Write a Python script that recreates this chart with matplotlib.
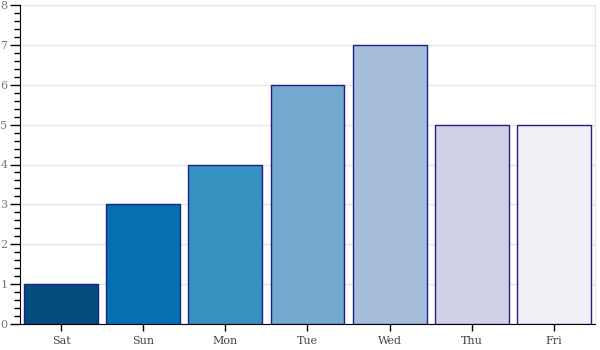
import matplotlib.pyplot as plt
from matplotlib.ticker import MultipleLocator

days = ["Sat", "Sun", "Mon", "Tue", "Wed", "Thu", "Fri"]
counts = [1, 3, 4, 6, 7, 5, 5]
colors = ["#034e7b", "#0570b0", "#3690c0", "#74a9cf", "#a6bddb", "#d0d1e6", "#f1eef6"]

fig = plt.figure(figsize=(6, 3.5), dpi=100)
ax = fig.add_axes([0.0333, 0.0743, 0.9584, 0.9114])

ax.bar(range(len(days)), counts, width=0.9, color=colors, edgecolor="#1f1f85", linewidth=1, zorder=3)

ax.set_xlim(-0.5, len(days) - 0.5)
ax.set_ylim(0, 8)
ax.set_xticks(range(len(days)))
ax.set_xticklabels(days, family="DejaVu Serif", fontsize=8, color="#444444")
ax.yaxis.set_major_locator(MultipleLocator(1))
ax.yaxis.set_minor_locator(MultipleLocator(0.2))
for lab in ax.get_yticklabels():
    lab.set_family("DejaVu Serif")
ax.tick_params(axis="y", which="major", length=7, width=1, labelsize=8, labelcolor="#777777", pad=2)
ax.tick_params(axis="y", which="minor", length=4, width=1)
ax.tick_params(axis="x", length=5, width=1, pad=4)

ax.grid(axis="y", color="#e5e5e5", linewidth=1, zorder=0)
ax.spines["top"].set_visible(False)
ax.spines["right"].set_color("#e5e5e5")
ax.spines["left"].set_color("black")
ax.spines["bottom"].set_color("black")

fig.savefig("out.png", dpi=100)
